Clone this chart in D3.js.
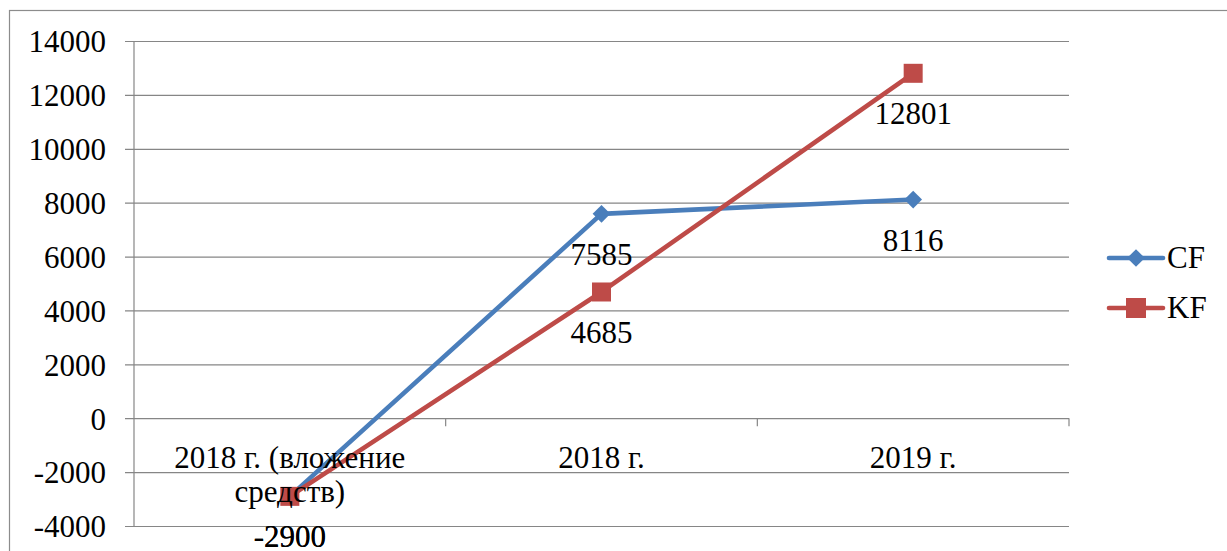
<!DOCTYPE html>
<html>
<head>
<meta charset="utf-8">
<script src="https://cdn.jsdelivr.net/npm/d3@7"></script>
<style>
  body { margin: 0; background: #fff; }
  text { font-family: "Liberation Serif", "Times New Roman", serif; fill: #000; }
</style>
</head>
<body>
<svg></svg>
<script>
// data
const categories = ['2018 г. (вложение средств)', '2018 г.', '2019 г.'];
const categoryLines = [['2018 г. (вложение', 'средств)'], ['2018 г.'], ['2019 г.']];
const cfValues = [-2900, 7585, 8116];
const kfValues = [-2900, 4685, 12801];
const yTicks = [-4000, -2000, 0, 2000, 4000, 6000, 8000, 10000, 12000, 14000];
const seriesNames = ['CF', 'KF'];

const size = {w: 1227, h: 551};
const plot = {l: 134, r: 1069, t: 41, b: 526};
const fontSize = 31;
const colors = {CF: '#4a7ebb', KF: '#be4b48'};
const gridColor = '#868686';

const svg = d3.select('svg')
    .attr('width', size.w)
    .attr('height', size.h);

// outer chart frame (runs off the right / bottom of the picture)
svg.append('rect')
    .attr('x', 9.5).attr('y', 10.5)
    .attr('width', size.w + 20).attr('height', size.h + 20)
    .attr('fill', 'none')
    .attr('stroke', '#8c8c8c')
    .attr('stroke-width', 1.2);

const x = d3.scaleBand()
    .domain(categories)
    .range([plot.l, plot.r]);

const y = d3.scaleLinear()
    .domain([-4000, 14000])
    .range([plot.b, plot.t]);

// horizontal gridlines + tick labels (plain hyphen for negatives, like the original)
const yAxis = d3.axisLeft(y)
    .tickValues(yTicks)
    .tickSize(0)
    .tickFormat(d => String(d));

const yg = svg.append('g')
    .attr('transform', `translate(${plot.l},0)`)
    .call(yAxis);
yg.select('.domain').remove();
yg.selectAll('.tick line')
    .attr('x1', -9)
    .attr('x2', plot.r - plot.l)
    .attr('stroke', gridColor)
    .attr('stroke-width', 1.2);
yg.selectAll('.tick text')
    .attr('x', -28)
    .attr('font-size', fontSize)
    .attr('dy', '0.35em');

// vertical axis line
svg.append('line')
    .attr('x1', plot.l).attr('x2', plot.l)
    .attr('y1', plot.t).attr('y2', plot.b)
    .attr('stroke', gridColor)
    .attr('stroke-width', 1.2);

// category tick marks on the zero line
const boundaries = categories.map(c => x(c)).concat([plot.r]);
svg.append('g').selectAll('line')
    .data(boundaries.slice(1))
    .join('line')
    .attr('x1', d => d).attr('x2', d => d)
    .attr('y1', y(0)).attr('y2', y(0) + 8)
    .attr('stroke', gridColor)
    .attr('stroke-width', 1.2);

// series
const series = [
    {name: 'CF', values: cfValues},
    {name: 'KF', values: kfValues}
];

const line = d3.line()
    .x((d, i) => x(categories[i]) + x.bandwidth() / 2)
    .y(d => y(d));

const diamond = d3.symbol().type(d3.symbolDiamond2).size(200);

series.forEach(s => {
    const g = svg.append('g');
    g.append('path')
        .attr('d', line(s.values))
        .attr('fill', 'none')
        .attr('stroke', colors[s.name])
        .attr('stroke-width', 4.6)
        .attr('stroke-linejoin', 'round');

    const pts = g.selectAll('.pt')
        .data(s.values)
        .join('g')
        .attr('transform', (d, i) => `translate(${x(categories[i]) + x.bandwidth() / 2},${y(d)})`);

    if (s.name === 'CF') {
        pts.append('path')
            .attr('d', diamond)
            .attr('fill', colors.CF);
    } else {
        pts.append('rect')
            .attr('x', -9.5).attr('y', -9.5)
            .attr('width', 19).attr('height', 19)
            .attr('fill', colors.KF);
    }
});

// category labels
svg.append('g').selectAll('text')
    .data(categories)
    .join('text')
    .attr('x', d => x(d) + x.bandwidth() / 2)
    .attr('y', 468)
    .attr('text-anchor', 'middle')
    .attr('font-size', fontSize)
    .each(function(d, i) {
        d3.select(this).selectAll('tspan')
            .data(categoryLines[i])
            .join('tspan')
            .attr('x', x(d) + x.bandwidth() / 2)
            .attr('dy', (t, j) => j === 0 ? 0 : 34)
            .text(t => t);
    });

// data labels (below each point; the two -2900 labels overlap exactly)
series.forEach(s => {
    svg.append('g').selectAll('text')
        .data(s.values)
        .join('text')
        .attr('x', (d, i) => x(categories[i]) + x.bandwidth() / 2)
        .attr('y', d => y(d) + 51)
        .attr('text-anchor', 'middle')
        .attr('font-size', fontSize)
        .text(d => String(d));
});

// legend
const legend = svg.append('g')
    .attr('transform', 'translate(1108,258)');
const item = legend.selectAll('g')
    .data(seriesNames)
    .join('g')
    .attr('transform', (d, i) => `translate(0,${i * 50})`);
item.append('line')
    .attr('x1', 1).attr('x2', 55)
    .attr('stroke', d => colors[d])
    .attr('stroke-width', 4.6)
    .attr('stroke-linecap', 'round');
item.each(function(d) {
    const g = d3.select(this);
    if (d === 'CF') {
        g.append('path')
            .attr('transform', 'translate(28,0)')
            .attr('d', diamond)
            .attr('fill', colors.CF);
    } else {
        g.append('rect')
            .attr('x', 18).attr('y', -10)
            .attr('width', 20).attr('height', 20)
            .attr('fill', colors.KF);
    }
});
item.append('text')
    .attr('x', 59)
    .attr('dy', '0.33em')
    .attr('font-size', fontSize)
    .text(d => d);
</script>
</body>
</html>
